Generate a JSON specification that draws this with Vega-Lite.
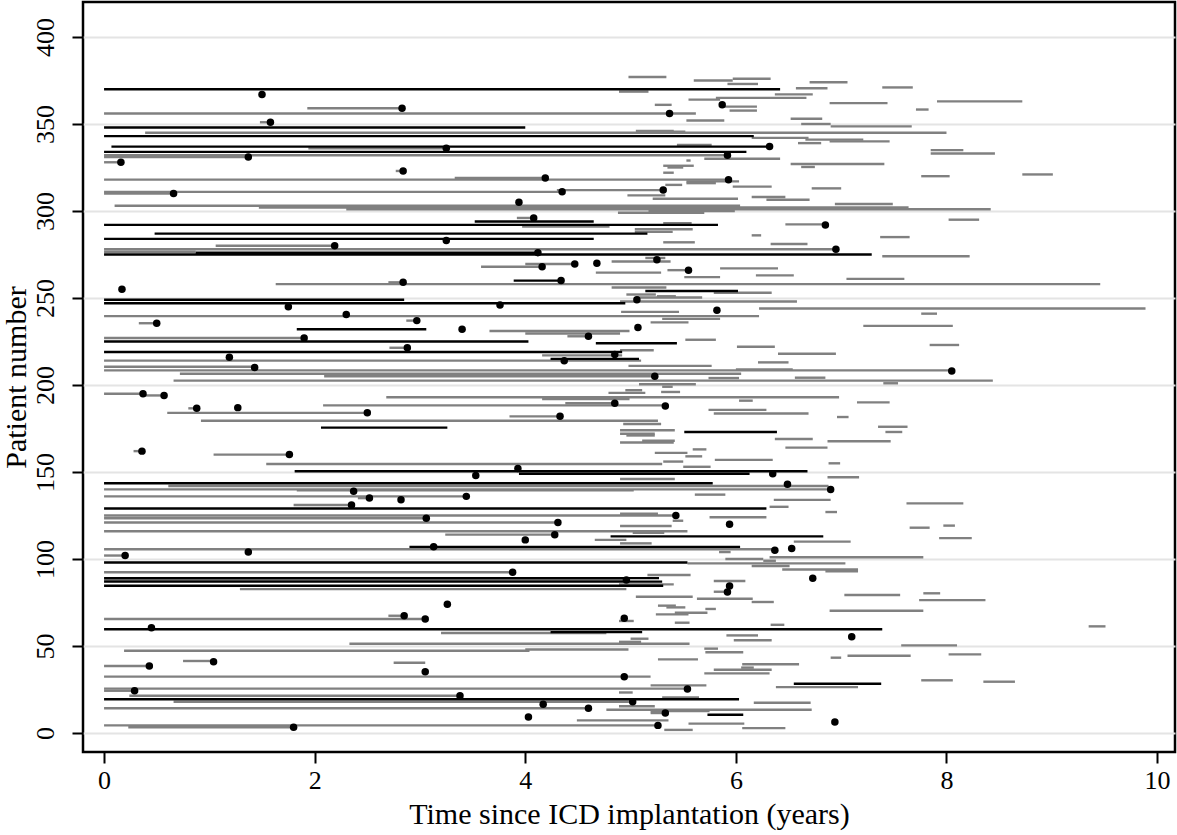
{
  "$schema": "https://vega.github.io/schema/vega-lite/v6.json",
  "width": 1092,
  "height": 750,
  "autosize": {"type": "none"},
  "padding": {"left": 83, "top": 2, "right": 2, "bottom": 83},
  "background": "white",
  "config": {
    "view": {"stroke": "black", "strokeWidth": 2.5},
    "font": "Liberation Serif",
    "axis": {
      "labelFont": "Liberation Serif", "titleFont": "Liberation Serif",
      "labelColor": "black", "titleColor": "black", "titleFontWeight": "normal",
      "tickColor": "black", "tickWidth": 2, "tickSize": 11, "domain": false,
      "labelFontSize": 26, "titleFontSize": 30, "labelFlush": false
    }
  },
  "datasets": {
    "gray": [
      {"p":377,"s":4.98,"e":5.34},{"p":376,"s":5.97,"e":6.33},{"p":375,"s":5.6,"e":5.97},{"p":374,"s":6.7,"e":7.06},{"p":373,"s":5.92,"e":6.21},{"p":371,"s":7.39,"e":7.68},{"p":370.5,"s":6.57,"e":6.87},{"p":368.6,"s":4.89,"e":5.17},{"p":367,"s":6.37,"e":6.73},{"p":365,"s":5.81,"e":6.67},{"p":364,"s":5.55,"e":5.85},{"p":363,"s":7.91,"e":8.72},{"p":362,"s":6.89,"e":7.44},{"p":361,"s":5.23,"e":5.39},{"p":360,"s":5.87,"e":6.2},{"p":359,"s":1.93,"e":2.83},{"p":358.3,"s":7.71,"e":7.83},{"p":357.7,"s":5.94,"e":6.2},{"p":356,"s":0,"e":5.62},{"p":353,"s":6.52,"e":6.82},{"p":352,"s":5.53,"e":5.89},{"p":351,"s":1.48,"e":1.58},{"p":350,"s":6.62,"e":6.9},{"p":348.6,"s":6.9,"e":7.67},{"p":346,"s":5.05,"e":5.41},{"p":345.5,"s":5.2,"e":5.52},{"p":345,"s":0.39,"e":8.0},{"p":342,"s":6.15,"e":6.69},{"p":341,"s":6.66,"e":7.21},{"p":340,"s":6.89,"e":7.46},{"p":339,"s":6.59,"e":6.81},{"p":338,"s":5.44,"e":5.77},{"p":336,"s":1.94,"e":3.25},{"p":335,"s":7.85,"e":8.16},{"p":333,"s":7.85,"e":8.46},{"p":332,"s":0,"e":5.92},{"p":331,"s":0,"e":1.37},{"p":330,"s":5.7,"e":6.42},{"p":329,"s":5.53,"e":5.57},{"p":328,"s":0,"e":0.16},{"p":327,"s":6.52,"e":7.41},{"p":326,"s":5.31,"e":5.6},{"p":325,"s":5.35,"e":5.5},{"p":325.3,"s":6.62,"e":6.75},{"p":323,"s":2.77,"e":2.84},{"p":322,"s":5.31,"e":5.41},{"p":321,"s":8.72,"e":9.01},{"p":320,"s":7.76,"e":8.03},{"p":319,"s":3.33,"e":4.19},{"p":318,"s":0,"e":5.93},{"p":317,"s":5.53,"e":6.03},{"p":316,"s":5.53,"e":5.81},{"p":315,"s":5.33,"e":5.49},{"p":314,"s":5.97,"e":6.34},{"p":313,"s":6.72,"e":7.0},{"p":312,"s":4.3,"e":5.31},{"p":311,"s":0,"e":4.35},{"p":310,"s":0,"e":0.66},{"p":309,"s":4.97,"e":5.33},{"p":308,"s":6.15,"e":6.47},{"p":307,"s":5.21,"e":6.02},{"p":306.5,"s":6.29,"e":6.7},{"p":304,"s":6.94,"e":7.49},{"p":303,"s":0.1,"e":6.04},{"p":302,"s":1.47,"e":7.64},{"p":301,"s":2.3,"e":8.42},{"p":300,"s":5.17,"e":5.99},{"p":299,"s":4.88,"e":5.7},{"p":296,"s":3.92,"e":4.08},{"p":295,"s":8.02,"e":8.31},{"p":293,"s":5.31,"e":5.58},{"p":291,"s":3.97,"e":4.8},{"p":292.3,"s":6.47,"e":6.83},{"p":289.5,"s":5.04,"e":5.59},{"p":288,"s":5.04,"e":5.4},{"p":286,"s":6.15,"e":6.24},{"p":285,"s":7.37,"e":7.65},{"p":282,"s":5.31,"e":5.61},{"p":281,"s":6.33,"e":6.68},{"p":280,"s":1.06,"e":2.19},{"p":278,"s":0,"e":6.95},{"p":276.6,"s":0,"e":0.87},{"p":274,"s":7.39,"e":8.22},{"p":273,"s":5.14,"e":5.33},{"p":271,"s":4.82,"e":5.38},{"p":268,"s":3.58,"e":4.16},{"p":269.5,"s":4.0,"e":4.47},{"p":267,"s":5.85,"e":6.4},{"p":266,"s":5.35,"e":5.55},{"p":264.6,"s":4.67,"e":5.29},{"p":263,"s":6.19,"e":6.55},{"p":262,"s":5.51,"e":5.85},{"p":261,"s":7.05,"e":7.6},{"p":259,"s":2.7,"e":2.84},{"p":258,"s":1.63,"e":9.46},{"p":256,"s":4.82,"e":5.34},{"p":253,"s":5.79,"e":6.34},{"p":252,"s":4.96,"e":5.24},{"p":251,"s":5.25,"e":5.43},{"p":250.3,"s":5.06,"e":5.68},{"p":248,"s":4.9,"e":6.58},{"p":244,"s":6.22,"e":9.89},{"p":242,"s":4.91,"e":5.46},{"p":241,"s":7.76,"e":7.91},{"p":239.6,"s":0,"e":6.22},{"p":238,"s":5.3,"e":5.85},{"p":237,"s":2.87,"e":2.97},{"p":236,"s":5.19,"e":5.55},{"p":235.5,"s":0.33,"e":0.5},{"p":234,"s":7.21,"e":8.06},{"p":231,"s":3.66,"e":4.99},{"p":229.6,"s":4.0,"e":4.9},{"p":228,"s":4.4,"e":4.6},{"p":227,"s":0,"e":1.9},{"p":226,"s":5.52,"e":5.81},{"p":223,"s":7.84,"e":8.12},{"p":222,"s":6.01,"e":6.37},{"p":221.4,"s":2.71,"e":2.88},{"p":220,"s":4.9,"e":5.22},{"p":218,"s":6.4,"e":6.95},{"p":217,"s":4.16,"e":4.92},{"p":214,"s":0,"e":5.1},{"p":213,"s":6.21,"e":6.5},{"p":211,"s":4.98,"e":5.77},{"p":210.5,"s":0,"e":1.43},{"p":209,"s":6.0,"e":6.54},{"p":208.4,"s":0,"e":8.07},{"p":206.5,"s":0.72,"e":6.05},{"p":205,"s":2.09,"e":5.23},{"p":204,"s":5.74,"e":6.03},{"p":204.2,"s":6.56,"e":6.85},{"p":202.5,"s":0.66,"e":8.44},{"p":201,"s":7.4,"e":7.54},{"p":200.4,"s":5.08,"e":5.62},{"p":199,"s":5.3,"e":5.4},{"p":197,"s":4.95,"e":5.11},{"p":196,"s":5.29,"e":5.47},{"p":195.5,"s":4.79,"e":5.14},{"p":195,"s":0,"e":0.37},{"p":194,"s":0.37,"e":0.57},{"p":193,"s":2.68,"e":6.98},{"p":192,"s":4.16,"e":4.99},{"p":191,"s":6.03,"e":6.16},{"p":190,"s":7.15,"e":7.46},{"p":189.5,"s":4.38,"e":4.85},{"p":188.3,"s":2.08,"e":5.33},{"p":186.6,"s":0.8,"e":0.88},{"p":185.7,"s":5.74,"e":6.29},{"p":184,"s":0.6,"e":2.5},{"p":183.6,"s":5.79,"e":6.69},{"p":182,"s":3.85,"e":4.33},{"p":181.6,"s":6.96,"e":7.07},{"p":179.5,"s":0.92,"e":5.26},{"p":177.6,"s":4.93,"e":5.29},{"p":176,"s":7.35,"e":7.63},{"p":174,"s":4.9,"e":5.42},{"p":173,"s":7.42,"e":7.58},{"p":172,"s":4.9,"e":5.23},{"p":171,"s":4.96,"e":5.23},{"p":169,"s":6.37,"e":6.73},{"p":168,"s":5.11,"e":5.42},{"p":167.7,"s":6.87,"e":7.47},{"p":167,"s":4.9,"e":5.41},{"p":164,"s":6.47,"e":6.87},{"p":163,"s":5.59,"e":5.72},{"p":162,"s":0.28,"e":0.36},{"p":161,"s":5.23,"e":5.54},{"p":160,"s":1.04,"e":1.76},{"p":159,"s":5.52,"e":5.68},{"p":157,"s":5.8,"e":6.35},{"p":156,"s":5.31,"e":5.5},{"p":155,"s":6.88,"e":6.99},{"p":154.6,"s":1.54,"e":5.3},{"p":153,"s":5.5,"e":5.76},{"p":147,"s":6.87,"e":7.17},{"p":146,"s":4.9,"e":5.42},{"p":142,"s":0.61,"e":6.88},{"p":140,"s":0,"e":6.9},{"p":139.5,"s":1.83,"e":5.03},{"p":137,"s":5.61,"e":5.9},{"p":136,"s":0,"e":3.44},{"p":135,"s":2.41,"e":2.52},{"p":134,"s":6.36,"e":6.9},{"p":132,"s":7.62,"e":8.16},{"p":131,"s":1.8,"e":2.35},{"p":130,"s":6.32,"e":6.5},{"p":127,"s":6.85,"e":6.96},{"p":126,"s":4.9,"e":5.26},{"p":125,"s":0,"e":5.43},{"p":124,"s":5.75,"e":6.29},{"p":123.4,"s":0,"e":3.06},{"p":122,"s":5.4,"e":5.5},{"p":121,"s":0,"e":4.31},{"p":119,"s":4.9,"e":5.39},{"p":119.2,"s":7.97,"e":8.08},{"p":118,"s":7.65,"e":7.84},{"p":116,"s":0,"e":5.54},{"p":115,"s":5.02,"e":5.32},{"p":114,"s":3.24,"e":4.28},{"p":112,"s":7.93,"e":8.24},{"p":111,"s":4.66,"e":4.96},{"p":110,"s":6.55,"e":7.09},{"p":109,"s":4.9,"e":5.2},{"p":105.6,"s":0,"e":6.37},{"p":104,"s":5.84,"e":5.95},{"p":102,"s":0,"e":0.2},{"p":101,"s":6.32,"e":7.78},{"p":100,"s":5.9,"e":6.26},{"p":99,"s":6.26,"e":6.38},{"p":97.5,"s":5.54,"e":7.04},{"p":96,"s":6.15,"e":6.51},{"p":94,"s":6.44,"e":7.16},{"p":93,"s":6.85,"e":7.16},{"p":92.4,"s":0,"e":3.88},{"p":90.8,"s":5.16,"e":5.57},{"p":88,"s":0,"e":4.96},{"p":87.4,"s":5.79,"e":6.09},{"p":85.4,"s":4.89,"e":5.41},{"p":82.7,"s":1.29,"e":4.96},{"p":81.2,"s":5.79,"e":5.92},{"p":80.3,"s":7.78,"e":7.94},{"p":79.3,"s":7.03,"e":7.56},{"p":78.3,"s":5.05,"e":5.59},{"p":77.2,"s":5.63,"e":6.16},{"p":76.4,"s":7.74,"e":8.37},{"p":75.3,"s":6.15,"e":6.36},{"p":73.2,"s":5.26,"e":5.43},{"p":72.2,"s":5.34,"e":5.52},{"p":71.3,"s":5.71,"e":5.81},{"p":70.3,"s":6.89,"e":7.78},{"p":69.1,"s":5.42,"e":5.73},{"p":68.2,"s":5.24,"e":5.55},{"p":67.4,"s":2.7,"e":2.85},{"p":65.5,"s":0,"e":3.05},{"p":64.4,"s":4.89,"e":5.03},{"p":63.4,"s":5.42,"e":5.56},{"p":62.2,"s":6.33,"e":6.46},{"p":61.3,"s":9.35,"e":9.51},{"p":57.5,"s":3.2,"e":4.77},{"p":56.1,"s":5.91,"e":6.21},{"p":54.2,"s":5.0,"e":5.17},{"p":53.3,"s":5.98,"e":6.34},{"p":52.4,"s":4.89,"e":5.1},{"p":51.3,"s":2.33,"e":5.56},{"p":50.4,"s":7.57,"e":8.1},{"p":48.5,"s":5.7,"e":5.83},{"p":48,"s":4.0,"e":4.98},{"p":47.3,"s":0.19,"e":4.04},{"p":46.4,"s":5.71,"e":6.07},{"p":45.2,"s":8.02,"e":8.33},{"p":44.4,"s":7.06,"e":7.66},{"p":43.3,"s":6.9,"e":7.0},{"p":42.3,"s":5.26,"e":5.64},{"p":41.4,"s":0.75,"e":1.04},{"p":40.4,"s":2.75,"e":3.05},{"p":39.5,"s":6.06,"e":6.6},{"p":38.5,"s":0,"e":0.43},{"p":37.6,"s":6.05,"e":6.17},{"p":36.4,"s":5.79,"e":6.34},{"p":34.3,"s":5.7,"e":6.32},{"p":32.4,"s":0,"e":5.19},{"p":30.3,"s":7.76,"e":8.06},{"p":29.5,"s":8.35,"e":8.65},{"p":27.4,"s":5.19,"e":5.72},{"p":26.4,"s":6.38,"e":7.16},{"p":25.5,"s":0,"e":5.54},{"p":24.3,"s":0,"e":0.29},{"p":23.3,"s":4.89,"e":5.02},{"p":21.4,"s":0.24,"e":3.38},{"p":20.5,"s":5.3,"e":5.65},{"p":18,"s":0.66,"e":5.02},{"p":17.4,"s":6.17,"e":6.71},{"p":15.4,"s":4.89,"e":5.23},{"p":14.2,"s":0,"e":4.6},{"p":13.4,"s":4.77,"e":6.72},{"p":12.7,"s":5.19,"e":5.75},{"p":11.5,"s":5.19,"e":5.33},{"p":7.3,"s":4.49,"e":5.36},{"p":5.4,"s":5.55,"e":6.08},{"p":4.4,"s":0,"e":5.26},{"p":3.3,"s":0.23,"e":1.8},{"p":2.8,"s":6.06,"e":6.47},{"p":1.8,"s":5.32,"e":5.59}
    ],
    "black": [
      {"p":370,"s":0,"e":6.42},{"p":348,"s":0,"e":4.0},{"p":343,"s":0,"e":6.17},{"p":337,"s":0.07,"e":6.32},{"p":334,"s":0,"e":6.1},{"p":294,"s":3.52,"e":4.65},{"p":292,"s":0,"e":5.83},{"p":287,"s":0.48,"e":5.16},{"p":284,"s":0,"e":4.65},{"p":276,"s":0.87,"e":4.12},{"p":275,"s":0,"e":7.29},{"p":260,"s":3.89,"e":4.34},{"p":254,"s":5.14,"e":6.02},{"p":249,"s":0,"e":2.85},{"p":247,"s":0,"e":4.95},{"p":232,"s":1.83,"e":3.06},{"p":225,"s":0,"e":4.03},{"p":224,"s":4.67,"e":5.44},{"p":219,"s":0,"e":4.92},{"p":215,"s":4.24,"e":5.08},{"p":175.5,"s":2.06,"e":3.26},{"p":173,"s":5.51,"e":6.39},{"p":150.4,"s":1.81,"e":6.68},{"p":149,"s":3.94,"e":6.13},{"p":143.5,"s":0,"e":5.78},{"p":129,"s":0,"e":6.29},{"p":113,"s":4.81,"e":6.83},{"p":107,"s":2.9,"e":6.04},{"p":98,"s":0,"e":5.54},{"p":89,"s":0,"e":5.27},{"p":87,"s":0,"e":5.3},{"p":84.6,"s":0,"e":5.31},{"p":59.6,"s":0,"e":7.39},{"p":58,"s":4.24,"e":5.11},{"p":28.3,"s":6.55,"e":7.38},{"p":19.4,"s":0,"e":6.03},{"p":10.5,"s":5.73,"e":6.07}
    ],
    "dots": [
      {"p":367,"t":1.5},{"p":359,"t":2.83},{"p":356,"t":5.37},{"p":361,"t":5.87},{"p":351,"t":1.58},{"p":337,"t":6.32},{"p":336,"t":3.25},{"p":332,"t":5.92},{"p":331,"t":1.37},{"p":328,"t":0.16},{"p":323,"t":2.84},{"p":319,"t":4.19},{"p":318,"t":5.93},{"p":310,"t":0.66},{"p":311,"t":4.35},{"p":312,"t":5.31},{"p":305,"t":3.94},{"p":296,"t":4.08},{"p":292,"t":6.85},{"p":283,"t":3.25},{"p":280,"t":2.19},{"p":278,"t":6.95},{"p":276,"t":4.12},{"p":272,"t":5.25},{"p":268,"t":4.16},{"p":269.5,"t":4.47},{"p":270,"t":4.68},{"p":266,"t":5.55},{"p":259,"t":2.84},{"p":260,"t":4.34},{"p":255,"t":0.17},{"p":249,"t":5.06},{"p":245,"t":1.75},{"p":246,"t":3.76},{"p":240.5,"t":2.3},{"p":243,"t":5.82},{"p":235.5,"t":0.5},{"p":237,"t":2.97},{"p":232,"t":3.4},{"p":233,"t":5.07},{"p":228,"t":4.6},{"p":227,"t":1.9},{"p":221.4,"t":2.88},{"p":217.6,"t":4.85},{"p":214,"t":4.37},{"p":216,"t":1.19},{"p":210,"t":1.43},{"p":208,"t":8.05},{"p":205,"t":5.23},{"p":195,"t":0.37},{"p":194,"t":0.57},{"p":189.5,"t":4.85},{"p":188,"t":5.33},{"p":186.6,"t":0.88},{"p":187,"t":1.27},{"p":184,"t":2.5},{"p":182,"t":4.33},{"p":162,"t":0.36},{"p":160,"t":1.76},{"p":152,"t":3.93},{"p":149,"t":6.35},{"p":148,"t":3.53},{"p":143,"t":6.49},{"p":140,"t":6.9},{"p":139,"t":2.37},{"p":136,"t":3.44},{"p":135,"t":2.52},{"p":134,"t":2.82},{"p":131,"t":2.35},{"p":125,"t":5.43},{"p":123.4,"t":3.06},{"p":121,"t":4.31},{"p":120,"t":5.94},{"p":114,"t":4.28},{"p":111,"t":4.0},{"p":107,"t":3.13},{"p":105,"t":6.37},{"p":106,"t":6.53},{"p":104,"t":1.37},{"p":102,"t":0.2},{"p":92.4,"t":3.88},{"p":88,"t":4.96},{"p":89,"t":6.73},{"p":84.5,"t":5.94},{"p":81,"t":5.92},{"p":74,"t":3.26},{"p":67.4,"t":2.85},{"p":65.5,"t":3.05},{"p":66,"t":4.94},{"p":60.5,"t":0.45},{"p":55.3,"t":7.1},{"p":41,"t":1.04},{"p":38.5,"t":0.43},{"p":35.2,"t":3.05},{"p":32.4,"t":4.94},{"p":25.3,"t":5.54},{"p":24.3,"t":0.29},{"p":21.4,"t":3.38},{"p":18,"t":5.02},{"p":16.5,"t":4.17},{"p":14.2,"t":4.6},{"p":11.5,"t":5.33},{"p":9.2,"t":4.03},{"p":6.3,"t":6.94},{"p":4.4,"t":5.26},{"p":3.3,"t":1.8}
    ]
  },
  "layer": [
    {
      "data": {"name": "gray"},
      "mark": {"type": "rule", "color": "#808080", "strokeWidth": 2.4},
      "encoding": {
        "y": {"field": "p", "type": "quantitative",
          "scale": {"domain": [-10.9, 420.1], "nice": false, "zero": false},
          "axis": {"values": [0, 50, 100, 150, 200, 250, 300, 350, 400], "title": "Patient number", "format": "d",
            "labelAngle": 270, "labelAlign": "center", "labelBaseline": "alphabetic", "labelPadding": 19,
            "grid": true, "gridColor": "#e4e4e4", "gridWidth": 2, "titlePadding": 1}},
        "x": {"field": "s", "type": "quantitative",
          "scale": {"domain": [-0.2, 10.17], "nice": false, "zero": false},
          "axis": {"values": [0, 2, 4, 6, 8, 10], "title": "Time since ICD implantation (years)", "format": "d",
            "grid": false, "labelPadding": 4, "titlePadding": 6}},
        "x2": {"field": "e"}
      }
    },
    {
      "data": {"name": "black"},
      "mark": {"type": "rule", "color": "#000000", "strokeWidth": 2.4},
      "encoding": {
        "y": {"field": "p", "type": "quantitative"},
        "x": {"field": "s", "type": "quantitative"},
        "x2": {"field": "e"}
      }
    },
    {
      "data": {"name": "dots"},
      "mark": {"type": "circle", "color": "#000000", "size": 56, "opacity": 1},
      "encoding": {
        "y": {"field": "p", "type": "quantitative"},
        "x": {"field": "t", "type": "quantitative"}
      }
    }
  ]
}
